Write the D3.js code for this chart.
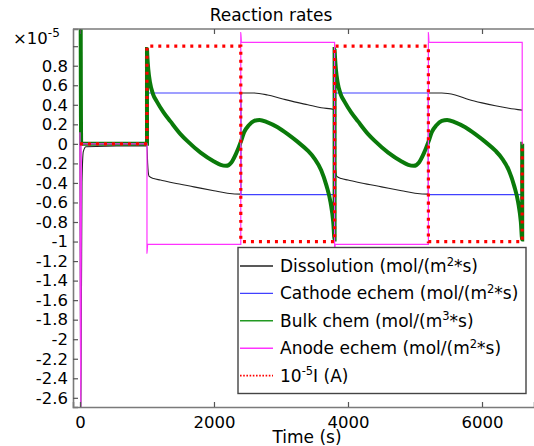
<!DOCTYPE html>
<html>
<head>
<meta charset="utf-8">
<script src="https://cdn.jsdelivr.net/npm/d3@7"></script>
<style>
  body { margin: 0; background: #fff; }
  svg { display: block; font-family: "DejaVu Sans", sans-serif; }
</style>
</head>
<body>
<div id="chart"></div>
<script>
// Values are in units of 1e-5, time in seconds
const dissolution = [
  [0, 0], [12, -2.9], [30, -0.4], [50, -0.08], [90, -0.03], [1000, -0.02],
  [1010, -0.2], [1030, -0.33], [1100, -0.355], [1200, -0.37], [1400, -0.4], [1700, -0.44], [2000, -0.48], [2200, -0.505], [2400, -0.515],
  [2400, 0.52], [2600, 0.52], [2800, 0.5], [3000, 0.465], [3200, 0.43], [3400, 0.4], [3600, 0.37], [3800, 0.35],
  [3800, -0.02], [3810, -0.2], [3830, -0.33], [3900, -0.355], [4000, -0.37], [4200, -0.4], [4500, -0.44], [4800, -0.48], [5000, -0.505], [5200, -0.515],
  [5200, 0.52], [5400, 0.52], [5600, 0.5], [5800, 0.455], [6000, 0.42], [6200, 0.39], [6400, 0.365], [6600, 0.345]
];

const cathode = [
  [0, 0], [1000, 0], [1000, 0.52], [2400, 0.52], [2400, -0.52], [3800, -0.52],
  [3800, 0.52], [5200, 0.52], [5200, -0.52], [6600, -0.52], [6600, 0], [6610, 0]
];

const bulk = [
  [0, 6], [18, 0], [1000, 0],
  [1000, 0.97], [1005, 0.9], [1020, 0.76], [1045, 0.63], [1090, 0.51], [1150, 0.43], [1250, 0.32], [1350, 0.23], [1500, 0.1], [1600, 0.03], [1800, -0.09], [2000, -0.18], [2100, -0.215], [2180, -0.225], [2260, -0.19], [2330, -0.1], [2400, 0.02],
  [2450, 0.12], [2520, 0.19], [2600, 0.235], [2680, 0.245], [2800, 0.22], [2950, 0.17], [3100, 0.1], [3250, 0.02], [3400, -0.07], [3500, -0.15], [3600, -0.27], [3680, -0.43], [3740, -0.6], [3780, -0.8], [3800, -0.98],
  [3800, 0.97], [3805, 0.9], [3820, 0.76], [3845, 0.63], [3890, 0.51], [3950, 0.43], [4050, 0.32], [4150, 0.23], [4300, 0.1], [4400, 0.03], [4600, -0.09], [4800, -0.18], [4900, -0.215], [4980, -0.225], [5060, -0.19], [5130, -0.1], [5200, 0.02],
  [5250, 0.12], [5320, 0.19], [5400, 0.235], [5480, 0.245], [5600, 0.22], [5750, 0.17], [5900, 0.1], [6050, 0.02], [6200, -0.07], [6300, -0.15], [6400, -0.27], [6480, -0.43], [6540, -0.6], [6580, -0.8], [6600, -0.98],
  [6600, 0], [6610, 0]
];

const anode = [
  [0, 0.12], [12, -3], [22, 0], [1000, 0],
  [1000, -1.12], [1010, -1.03], [2400, -1.03],
  [2400, 1.14], [2410, 1.04], [3800, 1.04],
  [3800, -1.12], [3810, -1.03], [5200, -1.03],
  [5200, 1.14], [5210, 1.04], [6600, 1.04], [6600, 0], [6610, 0]
];

const current = [
  [0, 0], [1000, 0], [1000, 1], [2400, 1], [2400, -1], [3800, -1],
  [3800, 1], [5200, 1], [5200, -1], [6600, -1], [6600, 0], [6610, 0]
];

const seriesNames = [
  ["Dissolution (mol/(m", "2", "*s)"],
  ["Cathode echem (mol/(m", "2", "*s)"],
  ["Bulk chem (mol/(m", "3", "*s)"],
  ["Anode echem (mol/(m", "2", "*s)"],
  ["10", "-5", "I (A)"]
];
const xTicks = [0, 2000, 4000, 6000];
const yTicks = [-2.6, -2.4, -2.2, -2, -1.8, -1.6, -1.4, -1.2, -1, -0.8, -0.6, -0.4, -0.2, 0, 0.2, 0.4, 0.6, 0.8, 1];

const width = 534, height = 446;
const margin = { top: 29, right: 0, bottom: 39, left: 73 };
const fs = "16.5px";

const svg = d3.select("#chart").append("svg")
  .attr("width", width)
  .attr("height", height);

const x = d3.scaleLinear().domain([-104, 6776]).range([margin.left, width - margin.right]);
const y = d3.scaleLinear().domain([-2.694, 1.176]).range([height - margin.bottom, margin.top]);

// title
svg.append("text")
  .attr("x", 271).attr("y", 21)
  .attr("text-anchor", "middle")
  .style("font-size", "17px")
  .text("Reaction rates");

svg.append("defs").append("clipPath").attr("id", "clip")
  .append("rect")
  .attr("x", margin.left).attr("y", margin.top)
  .attr("width", width - margin.left - margin.right)
  .attr("height", height - margin.top - margin.bottom);

const line = d3.line()
  .x(d => x(d[0]))
  .y(d => y(d[1]))
  .curve(d3.curveMonotoneX);

const plot = svg.append("g").attr("clip-path", "url(#clip)");

const styles = [
  { data: dissolution, color: "#222", w: 1.1 },
  { data: cathode, color: "#4040ff", w: 1.1 },
  { data: bulk, color: "#0a7a0a", w: 4 },
  { data: anode, color: "#ff33ff", w: 1.2 },
  { data: current, color: "#ff0000", w: 3.2, dash: "3,5" }
];

styles.forEach(s => {
  plot.append("path")
    .datum(s.data)
    .attr("d", line)
    .attr("fill", "none")
    .attr("stroke", s.color)
    .attr("stroke-width", s.w)
    .attr("stroke-dasharray", s.dash || null);
});

// axes
const axisColor = "#7a7a7a";

const xAxis = svg.append("g")
  .attr("transform", `translate(0,${height - margin.bottom})`)
  .call(d3.axisBottom(x).tickValues(xTicks).tickSize(-5).tickPadding(9).tickFormat(d3.format("d")));

const xTop = svg.append("g")
  .attr("transform", `translate(0,${margin.top})`)
  .call(d3.axisTop(x).tickValues(xTicks).tickSize(-5).tickFormat(""));

const yAxis = svg.append("g")
  .attr("transform", `translate(${margin.left},0)`)
  .call(d3.axisLeft(y).tickValues(yTicks).tickSize(-5).tickPadding(5)
    .tickFormat(d => d === 1 ? "" : String(+d.toFixed(1))));

[xAxis, xTop, yAxis].forEach(a => {
  a.select(".domain").attr("stroke", axisColor).attr("stroke-width", 1.6);
  a.selectAll(".tick line").attr("stroke", "#555").attr("stroke-width", 1.2);
  a.selectAll(".tick text").attr("fill", "#000").style("font-size", fs).style("font-family", "DejaVu Sans");
});
xTop.select(".domain").attr("d", `M${margin.left},0H${width}`);

// exponent label
const expo = svg.append("text")
  .attr("x", 13).attr("y", 44)
  .style("font-size", fs);
expo.append("tspan").text("\u00d710");
expo.append("tspan").attr("dy", -7).style("font-size", "12px").text("-5");

// x label
svg.append("text")
  .attr("x", 307).attr("y", 443)
  .attr("text-anchor", "middle")
  .style("font-size", "17px")
  .text("Time (s)");

// legend
const legend = svg.append("g");
legend.append("rect")
  .attr("x", 238).attr("y", 247.5)
  .attr("width", 288).attr("height", 146)
  .attr("fill", "#fff")
  .attr("stroke", "#444")
  .attr("stroke-width", 1.4);

seriesNames.forEach((name, i) => {
  const ly = 266 + i * 27.4;
  const s = styles[i];
  legend.append("line")
    .attr("x1", 240).attr("x2", 273)
    .attr("y1", ly).attr("y2", ly)
    .attr("stroke", i === 2 ? "#229922" : s.color)
    .attr("stroke-width", i === 4 ? 1.6 : 1.4)
    .attr("stroke-dasharray", i === 4 ? "1.6,1.6" : null);
  const t = legend.append("text")
    .attr("x", 280).attr("y", ly + 6)
    .style("font-size", "17px");
  t.append("tspan").text(name[0]);
  t.append("tspan").attr("dy", -6.5).style("font-size", "11.5px").text(name[1]);
  t.append("tspan").attr("dy", 6.5).text(name[2]);
});
</script>
</body>
</html>
